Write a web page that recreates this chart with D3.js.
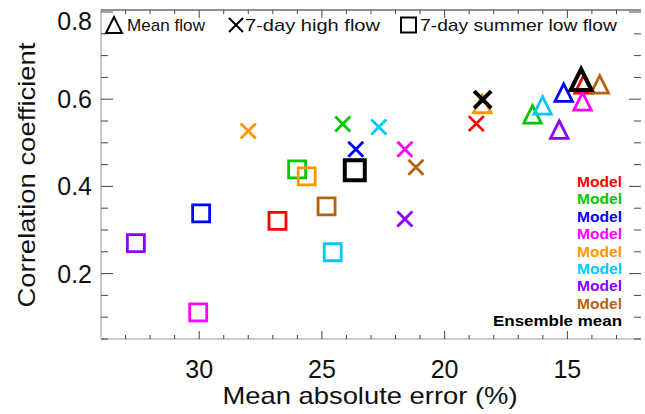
<!DOCTYPE html>
<html>
<head>
<meta charset="utf-8">
<script src="https://cdn.jsdelivr.net/npm/d3@7"></script>
<style>
  body { margin: 0; background: #fff; }
  svg { display: block; font-family: "Liberation Sans", Arial, sans-serif; }
</style>
</head>
<body>
<div id="chart"></div>
<script>
// Series names and colours (last one is the ensemble mean)
const seriesNames = ["Model", "Model", "Model", "Model", "Model", "Model", "Model", "Model", "Ensemble mean"];
const seriesColours = ["#ff0000", "#00c800", "#0000ff", "#ff00ff", "#ff9600", "#00c8ff", "#8c00ff", "#b4640f", "#000000"];

// Mean flow (triangles)
const meanFlowMAE = [14.34, 16.42, 15.15, 14.38, 18.47, 16.01, 15.33, 13.68, 14.44];
const meanFlowR   = [0.634, 0.565, 0.615, 0.595, 0.589, 0.586, 0.530, 0.634, 0.645];

// 7-day high flow (crosses)
const highFlowMAE = [18.71, 24.15, 23.62, 21.62, 28.00, 22.68, 21.62, 21.17, 18.45];
const highFlowR   = [0.544, 0.543, 0.485, 0.485, 0.527, 0.536, 0.325, 0.444, 0.599];

// 7-day summer low flow (squares)
const lowFlowMAE = [26.81, 26.01, 29.92, 30.04, 25.62, 24.56, 32.58, 24.81, 23.66];
const lowFlowR   = [0.321, 0.439, 0.338, 0.111, 0.423, 0.249, 0.270, 0.354, 0.437];

// Axis ticks
const xTicks = [30, 25, 20, 15];
const yTicks = [0.2, 0.4, 0.6, 0.8];

const legendItems = ["Mean flow", "7-day high flow", "7-day summer low flow"];

const width = 645, height = 414;
const plot = { left: 101, right: 641, top: 12, bottom: 339 };

const svg = d3.select("#chart").append("svg")
    .attr("width", width)
    .attr("height", height);

// Reversed x-axis: larger error on the left
const x = d3.scaleLinear().domain([34, 12]).range([plot.left, plot.right]);
const y = d3.scaleLinear().domain([0.05, 0.8]).range([plot.bottom, plot.top]);

const xMinor = d3.range(13, 34, 1);
const yMinor = d3.range(0.05, 0.8001, 0.05).map(v => +v.toFixed(2));

// Frame lines
svg.append("line").attr("x1", plot.left).attr("x2", plot.right)
    .attr("y1", plot.top - 2).attr("y2", plot.top - 2)
    .attr("stroke", "#222").attr("stroke-width", 1);
svg.append("line").attr("x1", plot.left).attr("x2", plot.right)
    .attr("y1", plot.bottom).attr("y2", plot.bottom)
    .attr("stroke", "#999").attr("stroke-width", 1);
svg.append("line").attr("x1", plot.left).attr("x2", plot.left)
    .attr("y1", plot.top - 2).attr("y2", plot.bottom)
    .attr("stroke", "#999").attr("stroke-width", 1);

const isMajorX = v => v % 5 === 0;
const isMajorY = v => Math.abs(v * 10 - Math.round(v * 10)) < 1e-6 && Math.round(v * 10) % 2 === 0;

// Bottom and top ticks
const ticks = svg.append("g").attr("stroke", "#444").attr("stroke-width", 1);
xMinor.forEach(v => {
    const len = isMajorX(v) ? 8 : 4;
    ticks.append("line").attr("x1", x(v)).attr("x2", x(v))
        .attr("y1", plot.bottom).attr("y2", plot.bottom - len);
    ticks.append("line").attr("x1", x(v)).attr("x2", x(v))
        .attr("y1", plot.top - 2).attr("y2", plot.top - 2 + len);
});

// Left and right ticks
yMinor.forEach(v => {
    const len = isMajorY(v) ? 12 : 7;
    ticks.append("line").attr("x1", plot.left).attr("x2", plot.left + len)
        .attr("y1", y(v)).attr("y2", y(v));
    ticks.append("line").attr("x1", plot.right).attr("x2", plot.right - len)
        .attr("y1", y(v)).attr("y2", y(v));
});

// Tick labels
svg.append("g").selectAll("text")
    .data(xTicks)
    .enter().append("text")
    .attr("x", d => x(d))
    .attr("y", 378)
    .attr("text-anchor", "middle")
    .style("font-size", "25px")
    .attr("fill", "#111")
    .text(d => d);

svg.append("g").selectAll("text")
    .data(yTicks)
    .enter().append("text")
    .attr("x", 92)
    .attr("y", d => d === 0.8 ? y(d) + 18 : y(d) + 9)
    .attr("text-anchor", "end")
    .style("font-size", "25px")
    .attr("fill", "#111")
    .text(d => d3.format(".1f")(d));

// Axis titles
svg.append("text")
    .attr("x", 370)
    .attr("y", 404)
    .attr("text-anchor", "middle")
    .attr("textLength", 295)
    .attr("lengthAdjust", "spacingAndGlyphs")
    .style("font-size", "24px")
    .attr("fill", "#111")
    .text("Mean absolute error (%)");

svg.append("text")
    .attr("transform", "translate(35,175) rotate(-90)")
    .attr("text-anchor", "middle")
    .attr("textLength", 265)
    .attr("lengthAdjust", "spacingAndGlyphs")
    .style("font-size", "24px")
    .attr("fill", "#111")
    .text("Correlation coefficient");

// Marker shapes
function triangle(g, cx, cy, s) {
    const h = s / 2;
    return g.append("path").attr("d", `M${cx - h},${cy + h}L${cx + h},${cy + h}L${cx},${cy - h}Z`);
}
function cross(g, cx, cy, s) {
    const h = s / 2;
    return g.append("path").attr("d", `M${cx - h},${cy - h}L${cx + h},${cy + h}M${cx - h},${cy + h}L${cx + h},${cy - h}`);
}
function square(g, cx, cy, s) {
    const h = s / 2;
    return g.append("path").attr("d", `M${cx - h},${cy - h}H${cx + h}V${cy + h}H${cx - h}Z`);
}

// Points
const marks = svg.append("g").attr("fill", "none").attr("stroke-linejoin", "miter");
seriesNames.forEach((name, i) => {
    const ens = i === seriesNames.length - 1;
    const g = marks.append("g")
        .attr("stroke", seriesColours[i])
        .attr("stroke-width", ens ? 4 : 2.8);
    triangle(g, x(meanFlowMAE[i]), y(meanFlowR[i]), ens ? 21 : 17.5);
    cross(g, x(highFlowMAE[i]), y(highFlowR[i]), ens ? 17 : 15);
    square(g, x(lowFlowMAE[i]), y(lowFlowR[i]), ens ? 20 : 17);
});

// Top legend
const legend = svg.append("g");
const lg = legend.append("g").attr("fill", "none").attr("stroke", "#000").attr("stroke-width", 2);
triangle(lg, 114, 25, 16);
cross(lg, 236, 25, 14);
square(lg, 408.5, 25, 15);

const legendPos = [{ x: 127, w: 78 }, { x: 245, w: 135 }, { x: 420, w: 197 }];
legend.selectAll("text.key")
    .data(legendItems)
    .enter().append("text")
    .attr("class", "key")
    .attr("x", (d, i) => legendPos[i].x)
    .attr("y", 31)
    .attr("textLength", (d, i) => legendPos[i].w)
    .attr("lengthAdjust", "spacingAndGlyphs")
    .style("font-size", "17px")
    .attr("fill", "#111")
    .text(d => d);

// Right-hand legend of series names
svg.append("g").selectAll("text")
    .data(seriesNames)
    .enter().append("text")
    .attr("x", 622)
    .attr("y", (d, i) => 187 + i * 17.4)
    .attr("text-anchor", "end")
    .attr("textLength", d => d === "Model" ? 45 : 129)
    .attr("lengthAdjust", "spacingAndGlyphs")
    .style("font-size", "15px")
    .style("font-weight", "bold")
    .attr("fill", (d, i) => seriesColours[i])
    .text(d => d);
</script>
</body>
</html>
